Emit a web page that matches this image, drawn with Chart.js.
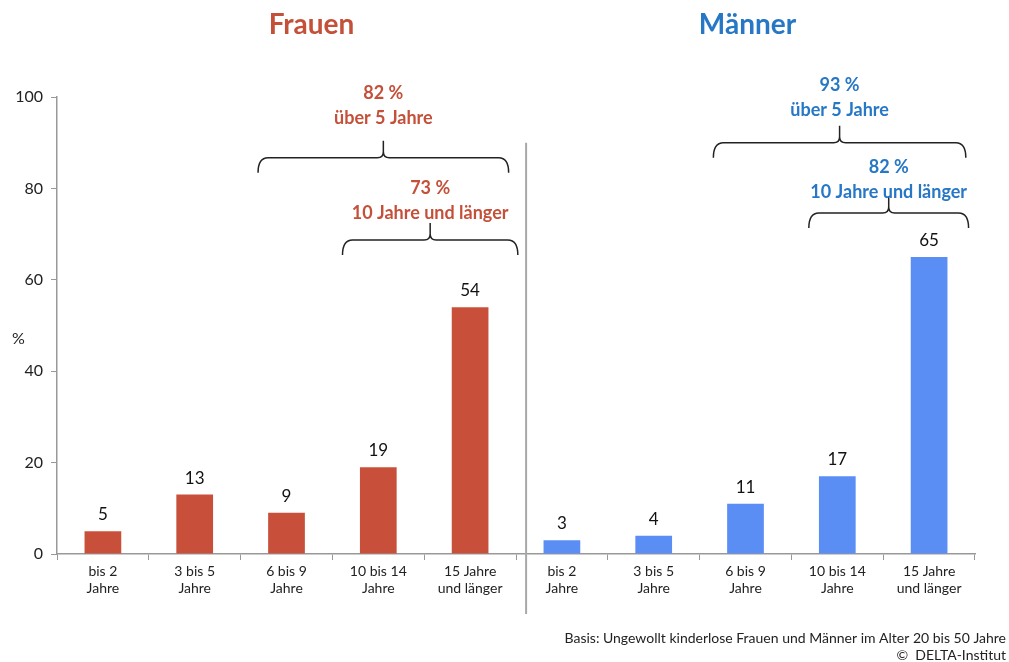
<!DOCTYPE html>
<html>
<head>
<meta charset="utf-8">
<script src="https://cdn.jsdelivr.net/npm/chart.js@4.4.1/dist/chart.umd.min.js"></script>
<style>
    html, body { margin: 0; padding: 0; background: #fff; }
</style>
</head>
<body>
<canvas id="chart" width="1009" height="662"></canvas>
<script>
// Data
const categories = [
    ['bis 2', 'Jahre'], ['3 bis 5', 'Jahre'], ['6 bis 9', 'Jahre'], ['10 bis 14', 'Jahre'], ['15 Jahre', 'und länger'],
    ['bis 2', 'Jahre'], ['3 bis 5', 'Jahre'], ['6 bis 9', 'Jahre'], ['10 bis 14', 'Jahre'], ['15 Jahre', 'und länger']
];
const frauenValues = [5, 13, 9, 19, 54, null, null, null, null, null];
const maennerValues = [null, null, null, null, null, 3, 4, 11, 17, 65];
const yTicks = [0, 20, 40, 60, 80, 100];
const groupTitles = ['Frauen', 'Männer'];
const footerLines = ['Basis: Ungewollt kinderlose Frauen und Männer im Alter 20 bis 50 Jahre', '©  DELTA-Institut'];

const RED = '#c8503a';
const BLUE = '#5b8ef4';
const RED_TEXT = '#c4503a';
const BLUE_TEXT = '#2677c6';
const FONT = "Lato, 'Open Sans', sans-serif";

// Brace annotations (category index range, y value of the brace line)
const braces = [
    { from: 1.69, to: 4.42, level: 86.7, color: RED_TEXT, lines: ['82 %', 'über 5 Jahre'], textOffset: 65 },
    { from: 2.61, to: 4.52, level: 68.7, color: RED_TEXT, lines: ['73 %', '10 Jahre und länger'], textOffset: 52 },
    { from: 6.65, to: 9.40, level: 90.0, color: BLUE_TEXT, lines: ['93 %', 'über 5 Jahre'], textOffset: 58 },
    { from: 7.69, to: 9.43, level: 74.6, color: BLUE_TEXT, lines: ['82 %', '10 Jahre und länger'], textOffset: 46 }
];

function drawBrace(ctx, x0, x1, y) {
    const xm = (x0 + x1) / 2;
    ctx.beginPath();
    ctx.moveTo(x0, y + 15);
    ctx.quadraticCurveTo(x0, y, x0 + 10, y);
    ctx.lineTo(xm - 6, y);
    ctx.quadraticCurveTo(xm, y, xm, y - 6);
    ctx.lineTo(xm, y - 17);
    ctx.moveTo(xm, y - 6);
    ctx.quadraticCurveTo(xm, y, xm + 6, y);
    ctx.lineTo(x1 - 10, y);
    ctx.quadraticCurveTo(x1, y, x1, y + 15);
    ctx.stroke();
}

const decorations = {
    id: 'decorations',
    afterDraw(chart) {
        const ctx = chart.ctx;
        const x = chart.scales.x;
        const y = chart.scales.y;
        const step = x.getPixelForValue(1) - x.getPixelForValue(0);
        ctx.save();

        // separator between groups
        const sepX = x.getPixelForValue(4.5) + step * 0.11;
        ctx.strokeStyle = '#a8a8a8';
        ctx.lineWidth = 2;
        ctx.beginPath();
        ctx.moveTo(sepX, y.getPixelForValue(90));
        ctx.lineTo(sepX, chart.chartArea.bottom + 60);
        ctx.stroke();

        // value labels
        ctx.fillStyle = '#111';
        ctx.font = '17px ' + FONT;
        ctx.textAlign = 'center';
        ctx.textBaseline = 'bottom';
        chart.data.datasets.forEach(function(ds, i) {
            chart.getDatasetMeta(i).data.forEach(function(bar, j) {
                if (ds.data[j] === null) return;
                ctx.fillText(String(ds.data[j]), bar.x, bar.y - 8);
            });
        });

        // group titles
        ctx.font = 'bold 28px ' + FONT;
        ctx.textBaseline = 'middle';
        ctx.fillStyle = RED_TEXT;
        ctx.fillText(groupTitles[0], x.getPixelForValue(2) + 25, 25);
        ctx.fillStyle = BLUE_TEXT;
        ctx.fillText(groupTitles[1], x.getPixelForValue(7) + 2, 25);

        // braces
        braces.forEach(function(b) {
            const x0 = x.getPixelForValue(0) + b.from * step;
            const x1 = x.getPixelForValue(0) + b.to * step;
            const yl = y.getPixelForValue(b.level);
            ctx.strokeStyle = '#222';
            ctx.lineWidth = 1.5;
            drawBrace(ctx, x0, x1, yl);
            ctx.fillStyle = b.color;
            ctx.font = 'bold 18px ' + FONT;
            ctx.textBaseline = 'middle';
            ctx.fillText(b.lines[0], (x0 + x1) / 2, yl - b.textOffset);
            ctx.fillText(b.lines[1], (x0 + x1) / 2, yl - b.textOffset + 25);
        });

        // y unit
        ctx.fillStyle = '#222';
        ctx.font = '16px ' + FONT;
        ctx.textAlign = 'left';
        ctx.fillText('%', 12, y.getPixelForValue(47));

        // footer
        ctx.font = '14px ' + FONT;
        ctx.textAlign = 'right';
        ctx.fillText(footerLines[0], chart.width - 3, chart.height - 24);
        ctx.fillText(footerLines[1], chart.width - 3, chart.height - 7);
        ctx.restore();
    }
};

new Chart(document.getElementById('chart'), {
    type: 'bar',
    data: {
        labels: categories,
        datasets: [
            { label: 'Frauen', data: frauenValues, backgroundColor: RED, skipNull: true },
            { label: 'Männer', data: maennerValues, backgroundColor: BLUE, skipNull: true }
        ]
    },
    options: {
        responsive: false,
        animation: false,
        skipNull: true,
        categoryPercentage: 1,
        barPercentage: 0.4,
        layout: { padding: { top: 97, right: 34, bottom: 50, left: 0 } },
        plugins: {
            legend: { display: false },
            title: { display: false },
            tooltip: { enabled: false }
        },
        scales: {
            x: {
                grid: { drawOnChartArea: false, tickLength: 6, color: '#999', offset: true },
                border: { color: '#999', width: 1.5 },
                ticks: { color: '#222', font: { size: 14, family: FONT }, padding: 3, maxRotation: 0, autoSkip: false },
                afterFit: function(scale) { scale.height = 58; }
            },
            y: {
                min: 0,
                max: 100,
                afterBuildTicks: function(scale) {
                    scale.ticks = yTicks.map(function(v) { return { value: v }; });
                },
                grid: { drawOnChartArea: false, tickLength: 6, color: '#999' },
                border: { color: '#999', width: 1.5 },
                ticks: { color: '#222', font: { size: 16, family: FONT }, padding: 8 },
                afterFit: function(scale) { scale.width = 57; }
            }
        }
    },
    plugins: [decorations]
});
</script>
</body>
</html>
